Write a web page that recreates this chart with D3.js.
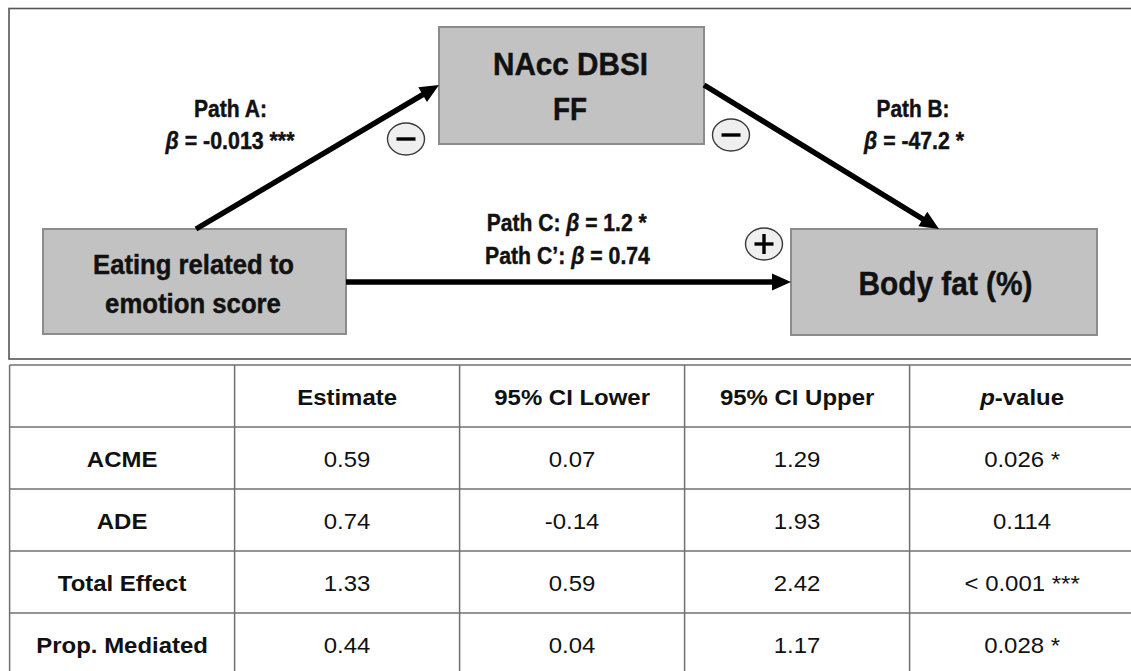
<!DOCTYPE html>
<html>
<head>
<meta charset="utf-8">
<script src="https://cdn.jsdelivr.net/npm/d3@7"></script>
<style>
  html, body { margin: 0; padding: 0; background: #fff; }
  svg { display: block; }
</style>
</head>
<body>
<svg id="chart" width="1131" height="671"></svg>
<script>
// ---------------- DATA ----------------
const nodeNames = ["Eating related to|emotion score", "NAcc DBSI|FF", "Body fat (%)"];
const pathNames = ["Path A:", "Path B:", "Path C:", "Path C\u2019:"];
const pathBetas = ["-0.013 ***", "-47.2 *", "1.2 *", "0.74"];
const pathSigns = ["\u2212", "\u2212", "+"];

const tableColumns = ["", "Estimate", "95% CI Lower", "95% CI Upper", "p-value"];
const rowLabels = ["ACME", "ADE", "Total Effect", "Prop. Mediated"];
const estimate = ["0.59", "0.74", "1.33", "0.44"];
const ciLower = ["0.07", "-0.14", "0.59", "0.04"];
const ciUpper = ["1.29", "1.93", "2.42", "1.17"];
const pValues = ["0.026 *", "0.114", "< 0.001 ***", "0.028 *"];

// ---------------- SETUP ----------------
const svg = d3.select("#chart");
const DIAG_FONT = "'Liberation Sans Narrow', 'Arial Narrow', 'Liberation Sans', Arial, sans-serif";
const TAB_FONT = "'Liberation Sans', Arial, Helvetica, sans-serif";

// diagram frame (right edge runs off the picture)
svg.append("rect")
  .attr("x", 9).attr("y", 8.5).attr("width", 1140).attr("height", 350.5)
  .attr("fill", "none").attr("stroke", "#555").attr("stroke-width", 1.6);

// node boxes
const boxes = [
  { x0: 43, y0: 229, x1: 346, y1: 334 },   // X
  { x0: 439, y0: 27, x1: 704, y1: 144 },   // M
  { x0: 791, y0: 229, x1: 1097, y1: 335 }  // Y
];
svg.append("g").selectAll("rect").data(boxes).join("rect")
  .attr("x", d => d.x0).attr("y", d => d.y0)
  .attr("width", d => d.x1 - d.x0).attr("height", d => d.y1 - d.y0)
  .attr("fill", "#c2c2c2").attr("stroke", "#8c8c8c").attr("stroke-width", 2);

const X = boxes[0], M = boxes[1], Y = boxes[2];
const midY = b => (b.y0 + b.y1) / 2;
const arrows = [
  { x1: 196, y1: X.y0, x2: M.x0, y2: midY(M) - 0.5 },         // Path A
  { x1: M.x1, y1: midY(M) - 0.5, x2: 939, y2: Y.y0 },         // Path B
  { x1: X.x1, y1: midY(X) + 0.5, x2: Y.x0, y2: midY(X) + 0.5 } // Path C
];
svg.append("g").selectAll("line").data(arrows).join("line")
  .attr("x1", d => d.x1).attr("y1", d => d.y1)
  .attr("x2", d => {
    const L = Math.hypot(d.x2 - d.x1, d.y2 - d.y1);
    return d.x2 - (d.x2 - d.x1) / L * 10;
  })
  .attr("y2", d => {
    const L = Math.hypot(d.x2 - d.x1, d.y2 - d.y1);
    return d.y2 - (d.y2 - d.y1) / L * 10;
  })
  .attr("stroke", "#000").attr("stroke-width", 5.5);
svg.append("g").selectAll("path").data(arrows).join("path")
  .attr("d", d => {
    const a = Math.atan2(d.y2 - d.y1, d.x2 - d.x1);
    const len = 19, hw = 8.5;
    const bx = d.x2 - Math.cos(a) * len, by = d.y2 - Math.sin(a) * len;
    const px = -Math.sin(a) * hw, py = Math.cos(a) * hw;
    return `M${d.x2},${d.y2}L${bx + px},${by + py}L${bx - px},${by - py}Z`;
  })
  .attr("fill", "#000");

// sign ellipses
const signPos = [ { cx: 406, cy: 139 }, { cx: 731, cy: 135 }, { cx: 764, cy: 244 } ];
const sg = svg.append("g").selectAll("g").data(signPos).join("g")
  .attr("transform", d => `translate(${d.cx},${d.cy})`);
sg.append("ellipse").attr("rx", 18.5).attr("ry", 16)
  .attr("fill", "#efefef").attr("stroke", "#3a3a3a").attr("stroke-width", 1.4);
sg.append("line").attr("x1", -9.5).attr("x2", 9.5).attr("y1", 0).attr("y2", 0)
  .attr("stroke", "#000").attr("stroke-width", 3.4);
sg.filter((d, i) => pathSigns[i] === "+").append("line")
  .attr("x1", 0).attr("x2", 0).attr("y1", -10).attr("y2", 10)
  .attr("stroke", "#000").attr("stroke-width", 3.4);

// diagram texts: font size from cap height, horizontal scale to the measured width
function diagText(parts, cx, by, size, width) {
  const t = svg.append("text")
    .attr("text-anchor", "middle")
    .attr("font-family", DIAG_FONT).attr("font-weight", "bold")
    .attr("font-size", size).attr("fill", "#111")
    .attr("stroke", "#111").attr("stroke-width", 0.45);
  parts.forEach(p => {
    const s = t.append("tspan").text(p.t);
    if (p.i) s.attr("font-style", "italic");
  });
  const natural = t.node().getComputedTextLength() || width;
  const sx = width / natural;
  t.attr("transform", `translate(${cx},${by}) scale(${sx},1)`);
  return t;
}
const xLines = nodeNames[0].split("|");
const mLines = nodeNames[1].split("|");
diagText([{ t: xLines[0] }], 193.5, 274.3, 28, 201);
diagText([{ t: xLines[1] }], 193, 313, 28, 176);
diagText([{ t: mLines[0] }], 570.5, 75, 32, 155);
diagText([{ t: mLines[1] }], 570, 120, 32, 34);
diagText([{ t: nodeNames[2] }], 945.5, 294.5, 34, 174);

diagText([{ t: pathNames[0] }], 230.5, 117.3, 23.5, 73);
diagText([{ t: "\u03B2", i: true }, { t: " = " + pathBetas[0] }], 230, 149, 23.5, 129);
diagText([{ t: pathNames[1] }], 913, 117.3, 23.5, 73);
diagText([{ t: "\u03B2", i: true }, { t: " = " + pathBetas[1] }], 914, 148.5, 23.5, 100);
diagText([{ t: pathNames[2] + " " }, { t: "\u03B2", i: true }, { t: " = " + pathBetas[2] }], 566.7, 231, 23.5, 160);
diagText([{ t: pathNames[3] + " " }, { t: "\u03B2", i: true }, { t: " = " + pathBetas[3] }], 567.5, 264.3, 23.5, 165);

// ---------------- TABLE ----------------
const nCols = tableColumns.length, nRows = rowLabels.length + 1;
const colX = d3.scaleLinear().domain([0, nCols]).range([9.6, 9.6 + 225 * nCols]);
const rowY = d3.scaleLinear().domain([0, nRows]).range([365, 365 + 62 * nRows]);
const tg = svg.append("g");
tg.selectAll("line.h").data(d3.range(nRows + 1)).join("line")
  .attr("class", "h")
  .attr("x1", colX(0)).attr("x2", colX(nCols))
  .attr("y1", d => rowY(d)).attr("y2", d => rowY(d))
  .attr("stroke", "#707070").attr("stroke-width", 1.5);
tg.selectAll("line.v").data(d3.range(nCols + 1)).join("line")
  .attr("class", "v")
  .attr("x1", d => colX(d)).attr("x2", d => colX(d))
  .attr("y1", rowY(0)).attr("y2", rowY(nRows))
  .attr("stroke", "#707070").attr("stroke-width", 1.5);

function cell(col, row, parts, bold) {
  const cx = (colX(col) + colX(col + 1)) / 2;
  const by = rowY(row) + 40;
  const t = tg.append("text")
    .attr("transform", `translate(${cx},${by}) scale(1.115,1)`)
    .attr("text-anchor", "middle")
    .attr("font-family", TAB_FONT).attr("font-size", 21.5)
    .attr("font-weight", bold ? "bold" : "normal").attr("fill", "#111");
  parts.forEach(p => {
    const s = t.append("tspan").text(p.t);
    if (p.i) s.attr("font-style", "italic");
  });
}
tableColumns.forEach((c, j) => {
  if (!c) return;
  if (c === "p-value") cell(j, 0, [{ t: "p", i: true }, { t: "-value" }], true);
  else cell(j, 0, [{ t: c }], true);
});
const colsData = [estimate, ciLower, ciUpper, pValues];
rowLabels.forEach((r, i) => {
  cell(0, i + 1, [{ t: r }], true);
  colsData.forEach((arr, j) => cell(j + 1, i + 1, [{ t: arr[i] }], false));
});
</script>
</body>
</html>
